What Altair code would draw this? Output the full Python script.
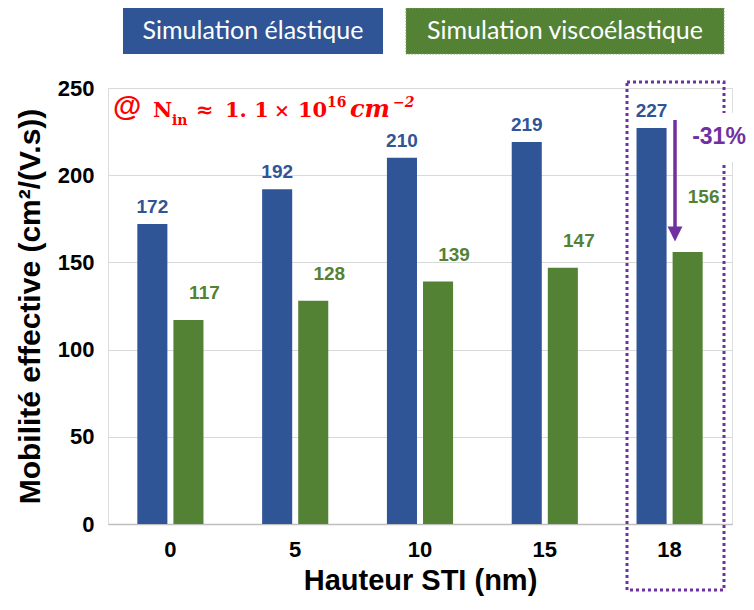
import altair as alt
import pandas as pd

heights = ["0", "5", "10", "15", "18"]
elastic = [172, 192, 210, 219, 227]
visco = [117, 128, 139, 147, 156]
series = ["Simulation élastique", "Simulation viscoélastique"]
colors = ["#2F5597", "#548235"]

rows = []
for h, e, v in zip(heights, elastic, visco):
    rows.append({"h": h, "s": series[0], "v": e})
    rows.append({"h": h, "s": series[1], "v": v})
df = pd.DataFrame(rows)

W, H = 624, 436
PURPLE = "#7030A0"
RED = "#FF0000"

x_enc = alt.X("h:N", sort=heights,
              scale=alt.Scale(paddingInner=0.47, paddingOuter=0.235),
              axis=alt.Axis(title="Hauteur STI (nm)", labelAngle=0, ticks=False,
                            domainColor="#BFBFBF", domainWidth=1.5,
                            labelFont="Liberation Sans", labelFontWeight="bold",
                            labelFontSize=22, labelColor="#000000", labelPadding=15,
                            titleFont="Liberation Sans", titleFontWeight="bold",
                            titleFontSize=29, titleColor="#000000", titlePadding=6))
xo_enc = alt.XOffset("s:N", sort=series,
                     scale=alt.Scale(paddingInner=0.167, paddingOuter=0))
y_enc = alt.Y("v:Q", scale=alt.Scale(domain=[0, 250]),
              axis=alt.Axis(values=[0, 50, 100, 150, 200, 250], grid=True,
                            gridColor="#D9D9D9", gridWidth=1.2, domain=False, ticks=False,
                            labelFont="Liberation Sans", labelFontWeight="bold",
                            labelFontSize=22, labelColor="#000000", labelPadding=14,
                            title="Mobilité effective (cm²/(V.s))",
                            titleFont="Liberation Sans", titleFontWeight="bold",
                            titleFontSize=30, titleColor="#000000", titlePadding=12))
color_enc = alt.Color("s:N", scale=alt.Scale(domain=series, range=colors), legend=None)

base = alt.Chart(df).encode(x=x_enc, xOffset=xo_enc, y=y_enc)

bars = base.mark_bar().encode(color=color_enc)

lab_blue = base.mark_text(font="Liberation Sans", fontWeight="bold", fontSize=19,
                          color=colors[0], baseline="middle", dy=-17).encode(
    text="v:Q").transform_filter(alt.datum.s == series[0])
lab_green = base.mark_text(font="Liberation Sans", fontWeight="bold", fontSize=19,
                           color=colors[1], baseline="middle", dy=-27, dx=16).encode(
    text="v:Q").transform_filter((alt.datum.s == series[1]) & (alt.datum.h != "18"))
lab_green18 = base.mark_text(font="Liberation Sans", fontWeight="bold", fontSize=19,
                             color=colors[1], baseline="middle", dy=-55, dx=16).encode(
    text="v:Q").transform_filter((alt.datum.s == series[1]) & (alt.datum.h == "18"))

one = alt.Chart(pd.DataFrame({"a": [0]}))

# legend boxes
leg_blue = one.mark_rect(fill=colors[0], clip=False).encode(
    x=alt.value(15), x2=alt.value(275), y=alt.value(-80), y2=alt.value(-34))
leg_green = one.mark_rect(fill=colors[1], stroke="#7F9F6A", strokeWidth=1,
                          strokeDash=[1.5, 1.5], clip=False).encode(
    x=alt.value(298), x2=alt.value(616), y=alt.value(-80), y2=alt.value(-34))
leg_t1 = one.mark_text(text=series[0], font="Lato", fontSize=25, color="white",
                       align="center", baseline="middle").encode(
    x=alt.value(145), y=alt.value(-57))
leg_t2 = one.mark_text(text=series[1], font="Lato", fontSize=25, color="white",
                       align="center", baseline="middle").encode(
    x=alt.value(457), y=alt.value(-57))

# purple dotted box
pbox = one.mark_rect(fill=None, fillOpacity=0, stroke=PURPLE, strokeWidth=3,
                     strokeDash=[3, 3], clip=False).encode(
    x=alt.value(519), x2=alt.value(616), y=alt.value(-6), y2=alt.value(502))
white = one.mark_rect(fill="white", clip=False).encode(
    x=alt.value(584), x2=alt.value(640), y=alt.value(25), y2=alt.value(74))
pct = one.mark_text(text="-31%", font="Liberation Sans", fontWeight="bold", fontSize=23,
                    color=PURPLE, align="center", baseline="middle").encode(
    x=alt.value(611), y=alt.value(49))
arrow_line = one.mark_rule(color=PURPLE, strokeWidth=3.5).encode(
    x=alt.value(567), y=alt.value(32), y2=alt.value(140))
arrow_head = one.mark_point(shape="M-1,-1L1,-1L0,1Z", filled=True, fill=PURPLE,
                            stroke=None, opacity=1, size=220).encode(
    x=alt.value(567), y=alt.value(146))

# red annotation pieces
def piece(txt, x, y, size, family="DejaVu Serif", style="normal"):
    return one.mark_text(text=txt, font=family, fontWeight="bold", fontStyle=style,
                         fontSize=size, color=RED, align="left",
                         baseline="alphabetic").encode(x=alt.value(x), y=alt.value(y))

ann = [
    piece("@", 5, 28, 29, "Liberation Sans"),
    piece("N", 45, 29, 21),
    piece("in", 64, 37, 14),
    piece("≈", 88, 29, 21),
    piece("1. 1", 117, 29, 21),
    piece("×", 166, 29, 19),
    piece("10", 190, 29, 21),
    piece("16", 219, 19, 14),
    piece("cm", 242, 29, 24, "DejaVu Serif", "italic"),
    piece("−2", 285, 19, 14, "DejaVu Serif", "italic"),
]

chart = alt.layer(
    bars, lab_blue, lab_green, lab_green18,
    leg_blue, leg_green, leg_t1, leg_t2,
    pbox, white, pct, arrow_line, arrow_head, *ann
).properties(
    width=W, height=H,
    autosize=alt.AutoSizeParams(type="none"),
    padding={"left": 100, "top": 80, "right": 14, "bottom": 78},
).configure_view(
    stroke="#000000", strokeWidth=1.2
).configure(background="white")

chart.save("out.html", embed_options={"renderer": "svg", "actions": False})
